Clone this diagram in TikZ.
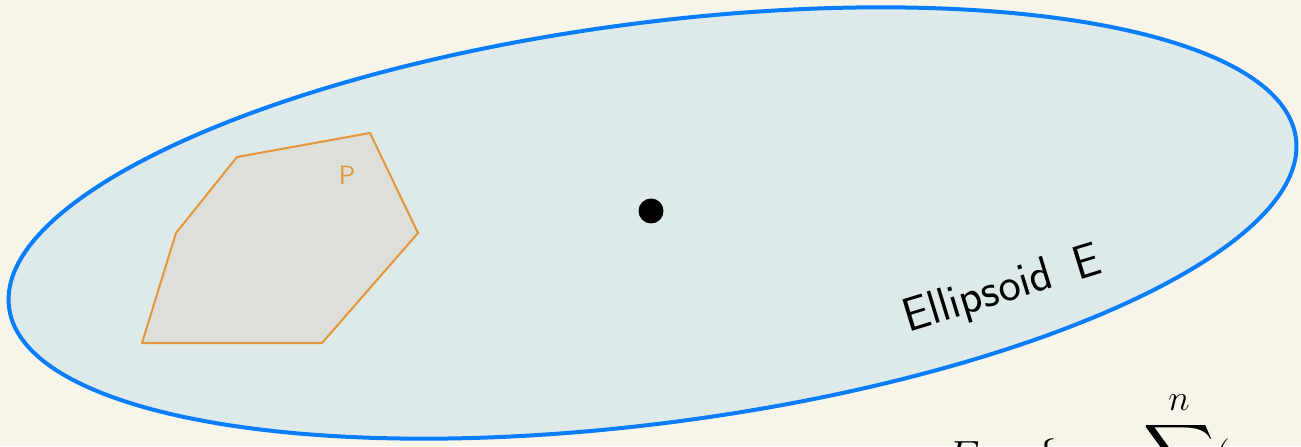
\documentclass[tikz,border=0pt]{standalone}
\usepackage{amsmath}
\usepackage{amssymb}
\usetikzlibrary{positioning}

\definecolor{paper}{RGB}{247,245,234}
\definecolor{ellfill}{RGB}{222,233,233}
\definecolor{ellline}{RGB}{10,125,250}
\definecolor{polyline}{RGB}{228,150,58}
\definecolor{polyfill}{RGB}{221,224,216}

\begin{document}
\begin{tikzpicture}[line join=round,
    ellipsoid/.style={draw=ellline,fill=ellfill,line width=0.08cm},
    polytope/.style={draw=polyline,fill=polyfill,line width=0.04cm},
    hand/.style={font=\sffamily\fontsize{27}{30}\selectfont}]

    % page
    \fill[paper] (0,0) rectangle (26.02,8.92);
    \useasboundingbox (0,0) rectangle (26.02,8.92);

    % the ellipsoid and its centre
    \coordinate (c) at (13.05,4.46);
    \draw[ellipsoid] (c) ellipse [x radius=12.98cm, y radius=4.0cm, rotate=7.5];
    \node[circle,fill=black,inner sep=0pt,minimum size=0.5cm] (centre) at (13.02,4.7) {};

    % the polytope P
    \draw[polytope] (4.74,5.78) -- (7.40,6.26) -- (8.36,4.26) -- (6.44,2.06)
        -- (2.84,2.06) -- (3.52,4.26) -- cycle;
    \node[font=\sffamily\fontsize{15}{18}\selectfont,text=polyline] (P) at (6.94,5.42) {P};

    \node[hand,rotate=17] (label) at (20.05,3.1) {Ellipsoid\enspace E};

    % formula, cut by the page edge
    \node[anchor=base west,font=\fontsize{28}{32}\selectfont,inner sep=0pt] (formula)
        at (18.9,-0.5) {$\displaystyle E = \{\, x :\;\, \sum^{n} (a_i \cdot (x$};

\end{tikzpicture}
\end{document}
